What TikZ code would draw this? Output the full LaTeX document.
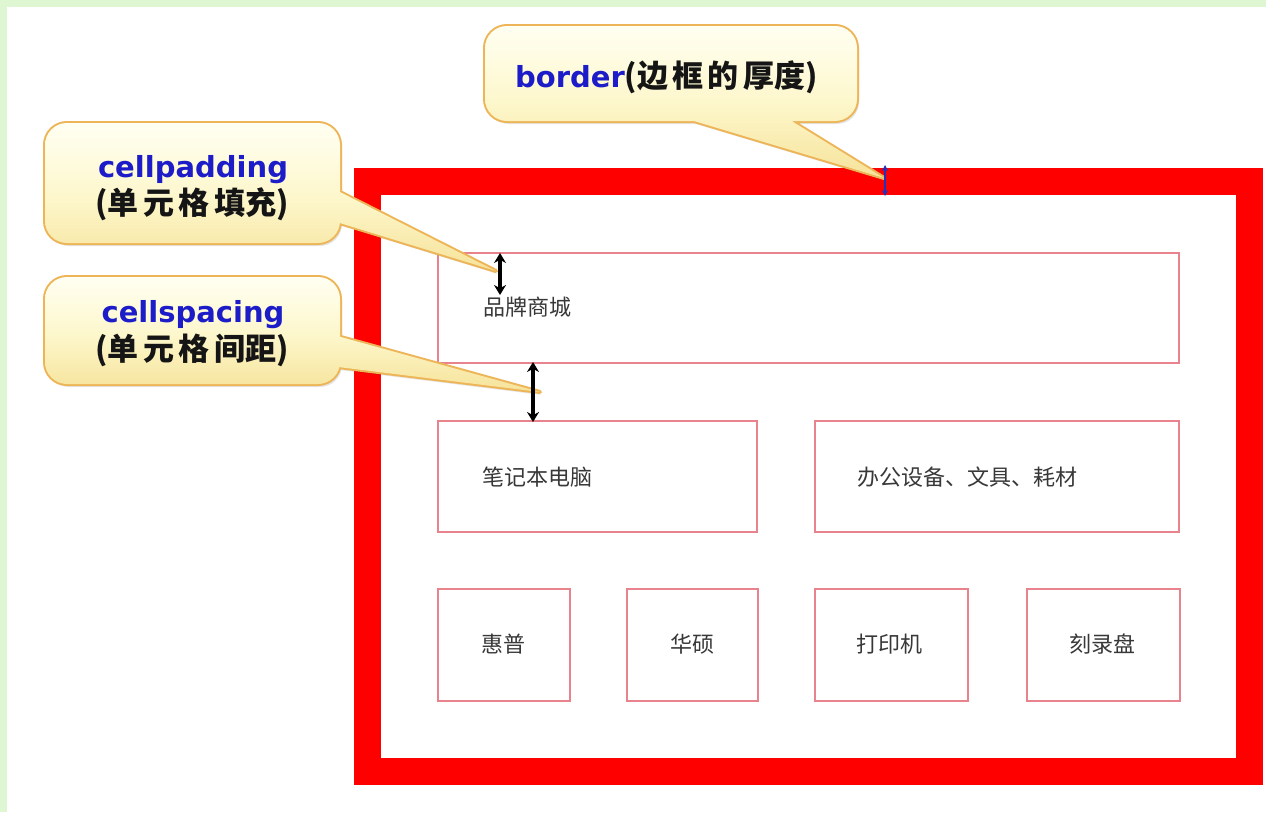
\documentclass[tikz,border=0pt]{standalone}
\usepackage{fontspec}
\usetikzlibrary{arrows.meta}
\setmainfont{DejaVu Sans}
\newfontfamily\cjk{Noto Sans CJK SC}
\newfontfamily\cjkls[LetterSpace=14]{Noto Sans CJK SC}
\definecolor{framegreen}{HTML}{DEF7D2}
\definecolor{tblred}{HTML}{FF0000}
\definecolor{cellc}{HTML}{E8828C}
\definecolor{celltxt}{HTML}{383838}
\definecolor{bubtop}{HTML}{FFFFF2}
\definecolor{bubmid}{HTML}{FDF7CC}
\definecolor{bubbot}{HTML}{F6E39A}
\definecolor{bubline}{HTML}{EDB557}
\definecolor{labblue}{HTML}{1C1CC8}
\definecolor{labblack}{HTML}{151515}
\definecolor{arrblue}{HTML}{2030C0}
\tikzset{
  cellbox/.style={draw=cellc, line width=1.6pt, inner sep=0pt},
  celltext/.style={text=celltxt, font=\cjk\fontsize{22}{26}\selectfont, inner sep=0pt},
  bubshadow/.style={fill=black, opacity=0.10},
  bubbleline/.style={draw=bubline, line width=4pt, line join=round},
  bubblefill/.style={top color=bubtop, bottom color=bubbot, middle color=bubmid},
  latlab/.style={font=\bfseries\fontsize{29}{34}\selectfont, text=labblue, inner sep=0pt},
  cjklab/.style={font=\cjk\bfseries\fontsize{31}{36}\selectfont, text=labblack, inner sep=0pt},
  dimarrow/.style={draw=black, line width=3.4pt, {Stealth[length=10pt,width=12pt]}-{Stealth[length=10pt,width=12pt]}},
  thinarrow/.style={draw=arrblue, line width=1.8pt, {Stealth[length=6pt,width=6pt]}-{Stealth[length=6pt,width=6pt]}}
}
\newcommand\mybubble[2]{%
  \fill[bubshadow, shift={(2pt,-3pt)}] [rounded corners=22pt] #1 [sharp corners] #2;
  \draw[bubbleline] [rounded corners=22pt] #1 [sharp corners] #2;
  \shade[bubblefill] [rounded corners=22pt] #1 [sharp corners] #2;
}
\newcommand\spc[1]{{\cjkls\bfseries #1}}
\begin{document}
\begin{tikzpicture}[x=1pt,y=-1pt]
  \fill[white] (0,0) rectangle (1266,812);
  \useasboundingbox (0,0) rectangle (1266,812);
  \fill[framegreen] (0,0) rectangle (1266,7);
  \fill[framegreen] (0,0) rectangle (7,812);

  % table frame
  \node[draw=tblred, line width=27pt, minimum width=882pt, minimum height=590pt, inner sep=0pt] (tbl) at (808.5,476.5) {};

  % cells
  \node[cellbox, minimum width=741pt, minimum height=110pt] (c1) at (808.5,308) {};
  \node[cellbox, minimum width=319pt, minimum height=111pt] (c2) at (597.5,476.5) {};
  \node[cellbox, minimum width=364pt, minimum height=111pt] (c3) at (997,476.5) {};
  \node[cellbox, minimum width=132pt, minimum height=112pt] (c4) at (504,645) {};
  \node[cellbox, minimum width=131pt, minimum height=112pt] (c5) at (692.5,645) {};
  \node[cellbox, minimum width=153pt, minimum height=112pt] (c6) at (891.5,645) {};
  \node[cellbox, minimum width=153pt, minimum height=112pt] (c7) at (1103.5,645) {};

  % cell texts
  \node[celltext, anchor=base west] (t1) at (483,315) {品牌商城};
  \node[celltext, anchor=base west] (t2) at (482,485) {笔记本电脑};
  \node[celltext, anchor=base west] (t3) at (857,485) {办公设备、文具、耗材};
  \node[celltext, anchor=base] (t4) at (503,652) {惠普};
  \node[celltext, anchor=base] (t5) at (692,652) {华硕};
  \node[celltext, anchor=base] (t6) at (889,652) {打印机};
  \node[celltext, anchor=base] (t7) at (1102,652) {刻录盘};

  % callouts
  \mybubble{(485,70) -- (485,26) -- (857,26) -- (857,121) -- (485,121) -- cycle}
           {(664,112) -- (777,112) -- (884,178) -- cycle}
  \mybubble{(45,185) -- (45,123) -- (340,123) -- (340,243) -- (45,243) -- cycle}
           {(330,187) -- (496,271) -- (330,220) -- cycle}
  \mybubble{(45,330) -- (45,277) -- (340,277) -- (340,384) -- (45,384) -- cycle}
           {(330,334) -- (540,392) -- (330,366) -- cycle}

  % dimension arrows
  \coordinate (pa1) at (500,253);
  \coordinate (pa2) at (500,295);
  \draw[dimarrow] (pa1) -- (pa2);
  \coordinate (sa1) at (533,362);
  \coordinate (sa2) at (533,422);
  \draw[dimarrow] (sa1) -- (sa2);
  \coordinate (ba1) at (885,165);
  \coordinate (ba2) at (885,196);
  \draw[thinarrow] (ba1) -- (ba2);

  % callout texts
  \node[anchor=base west, inner sep=0pt] (bt) at (515,87)
    {\textcolor{labblue}{\bfseries\fontsize{29}{34}\selectfont border}{\cjk\bfseries\fontsize{31}{36}\selectfont\color{labblack}(\spc{边框的厚}度)}};
  \node[latlab, anchor=base] (pA) at (193,177) {cellpadding};
  \node[cjklab, anchor=base] (pB) at (192,214) {(\spc{单元格填}充)};
  \node[latlab, anchor=base] (sA) at (193,322) {cellspacing};
  \node[cjklab, anchor=base] (sB) at (192,360) {(\spc{单元格间}距)};
\end{tikzpicture}
\end{document}
